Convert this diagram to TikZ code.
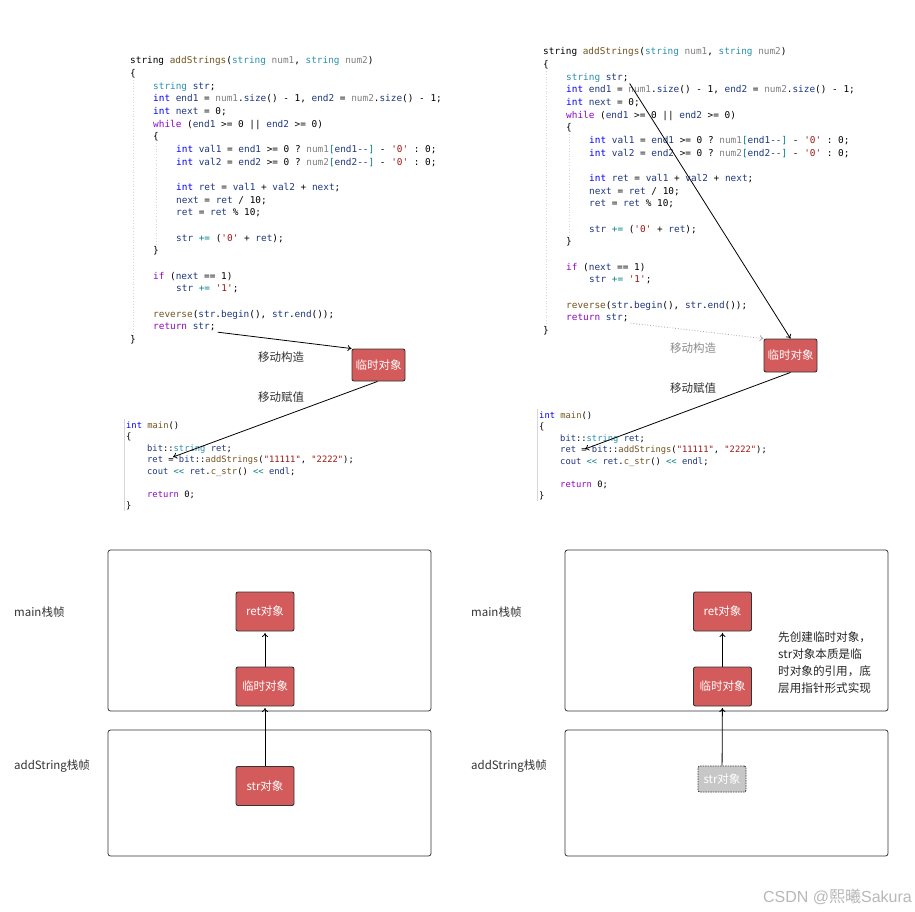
\documentclass[tikz,border=0pt]{standalone}
\usepackage{fontspec}
\setmonofont{DejaVu Sans Mono}
\newfontfamily\cjk{Noto Sans CJK SC}
\newfontfamily\wmfont{Liberation Sans}
\usetikzlibrary{arrows.meta}
\definecolor{cI}{HTML}{0000FF}
\definecolor{cS}{HTML}{2B91AF}
\definecolor{cC}{HTML}{8F08C4}
\definecolor{cV}{HTML}{1F377F}
\definecolor{cP}{HTML}{808080}
\definecolor{cL}{HTML}{A31515}
\definecolor{cO}{HTML}{008080}
\definecolor{cF}{HTML}{74531F}
\definecolor{objred}{HTML}{D45B5B}
\definecolor{lbl}{HTML}{333333}
\definecolor{guide}{HTML}{D6D6D6}
\newcommand\kI[1]{\textcolor{cI}{#1}}
\newcommand\kS[1]{\textcolor{cS}{#1}}
\newcommand\kC[1]{\textcolor{cC}{#1}}
\newcommand\kV[1]{\textcolor{cV}{#1}}
\newcommand\kP[1]{\textcolor{cP}{#1}}
\newcommand\kL[1]{\textcolor{cL}{#1}}
\newcommand\kO[1]{\textcolor{cO}{#1}}
\newcommand\kF[1]{\textcolor{cF}{#1}}
\newcommand\sq{\textquotesingle}
\newcommand\addstrcode[1]{%
 \draw[guide,dotted,line width=0.8pt] (3,16) -- (3,271);
 \draw[guide,dotted,line width=0.8pt] (26,79) -- (26,181);
 \node[codeln] (#1l1) at (0,0) {string \kF{addStrings}(\kS{string} \kP{num1}, \kS{string} \kP{num2})};
 \node[codeln] (#1l2) at (0,12.65) {\{};
 \node[codeln] (#1l3) at (23,25.3) {\kS{string} \kV{str};};
 \node[codeln] (#1l4) at (23,37.95) {\kI{int} \kV{end1} = \kP{num1}.\kV{size}() - 1, \kV{end2} = \kP{num2}.\kV{size}() - 1;};
 \node[codeln] (#1l5) at (23,50.6) {\kI{int} \kV{next} = 0;};
 \node[codeln] (#1l6) at (23,63.25) {\kC{while} (\kV{end1} >= 0 || \kV{end2} >= 0)};
 \node[codeln] (#1l7) at (23,75.9) {\{};
 \node[codeln] (#1l8) at (46,88.55) {\kI{int} \kV{val1} = \kV{end1} >= 0 ? \kP{num1}\kO{[}\kV{end1-{}-}\kO{]} - \kL{\sq0\sq} : 0;};
 \node[codeln] (#1l9) at (46,101.2) {\kI{int} \kV{val2} = \kV{end2} >= 0 ? \kP{num2}\kO{[}\kV{end2-{}-}\kO{]} - \kL{\sq0\sq} : 0;};
 \node[codeln] (#1l10) at (46,126.5) {\kI{int} \kV{ret} = \kV{val1} + \kV{val2} + \kV{next};};
 \node[codeln] (#1l11) at (46,139.15) {\kV{next} = \kV{ret} / 10;};
 \node[codeln] (#1l12) at (46,151.8) {\kV{ret} = \kV{ret} \% 10;};
 \node[codeln] (#1l13) at (46,177.1) {\kV{str} \kO{+=} (\kL{\sq0\sq} + \kV{ret});};
 \node[codeln] (#1l14) at (23,189.75) {\}};
 \node[codeln] (#1l15) at (23,215.05) {\kC{if} (\kV{next} == 1)};
 \node[codeln] (#1l16) at (46,227.7) {\kV{str} \kO{+=} \kL{\sq1\sq};};
 \node[codeln] (#1l17) at (23,253) {\kF{reverse}(\kV{str}.\kV{begin}(), \kV{str}.\kV{end}());};
 \node[codeln] (#1l18) at (23,265.65) {\kC{return} \kV{str};};
 \node[codeln] (#1l19) at (0,278.3) {\}};
}
\newcommand\maincode[1]{%
 \draw[guide,line width=0.8pt] (-2,-9) -- (-2,83);
 \node[mainln] (#1m1) at (0,0) {\kI{int} \kF{main}()};
 \node[mainln] (#1m2) at (0,11.5) {\{};
 \node[mainln] (#1m3) at (21,23) {\kV{bit}::\kS{string} \kV{ret};};
 \node[mainln] (#1m4) at (21,34.5) {\kV{ret} = \kV{bit}::\kF{addStrings}(\kL{"11111"}, \kL{"2222"});};
 \node[mainln] (#1m5) at (21,46) {\kV{cout} \kO{<{}<} \kV{ret}.\kF{c\_str}() \kO{<{}<} \kV{endl};};
 \node[mainln] (#1m6) at (21,69) {\kC{return} 0;};
 \node[mainln] (#1m7) at (0,80.5) {\}};
}
\begin{document}
\begin{tikzpicture}[x=1pt,y=-1pt,
  codeln/.style={anchor=base west,inner sep=0pt,font=\ttfamily\fontsize{9.4}{11}\selectfont,text=black},
  mainln/.style={anchor=base west,inner sep=0pt,font=\ttfamily\fontsize{8.8}{10}\selectfont,text=black},
  objbox/.style={draw=black!80,fill=objred,rounded corners=2pt,line width=0.9pt,text=white,inner sep=0pt,font=\cjk\fontsize{11.5}{13}\selectfont},
  ghostbox/.style={draw=black!75,fill=black!22,dash pattern=on 1.5pt off 1pt,rounded corners=2pt,line width=0.9pt,text=white,inner sep=0pt,font=\cjk\fontsize{11.5}{13}\selectfont},
  frame/.style={draw=black!80,rounded corners=2.5pt,line width=0.8pt,inner sep=0pt},
  lab/.style={text=lbl,inner sep=0pt,font=\cjk\fontsize{11.5}{13}\selectfont},
  conn/.style={draw=black,line width=0.8pt,-{To[length=4pt,width=6pt]}},
]
\useasboundingbox[fill=white] (0,0) rectangle (915,912);

% ---------- top left code ----------
\begin{scope}[shift={(130,64)}]
\addstrcode{L}
\end{scope}
\begin{scope}[shift={(126,428)}]
\maincode{L}
\end{scope}
\node[objbox,minimum width=53pt,minimum height=32pt] (tmpL) at (378.5,365) {临时对象};
\node[lab] (labL1) at (281,357) {移动构造};
\node[lab] (labL2) at (281,397) {移动赋值};
\coordinate (mL) at (173,457);
\draw[conn] ([xshift=2pt,yshift=-1pt]Ll18.south east) -- (tmpL.north west);
\draw[conn] ([xshift=-1pt]tmpL.south) -- (mL);

% ---------- top right code ----------
\begin{scope}[shift={(543,55)}]
\addstrcode{R}
\end{scope}
\begin{scope}[shift={(539,418)}]
\maincode{R}
\end{scope}
\node[objbox,minimum width=53pt,minimum height=33pt] (tmpR) at (790.5,355.5) {临时对象};
\node[lab,text=black!45] (labR1) at (693,348) {移动构造};
\node[lab] (labR2) at (693,388) {移动赋值};
\coordinate (mR) at (585,449);
\draw[conn] ([xshift=1pt,yshift=-1pt]Rl3.south east) -- (tmpR.north);
\draw[draw=black!35,line width=0.8pt,dotted,-{To[length=4pt,width=6pt]}] ([xshift=2pt,yshift=-1pt]Rl18.south east) -- (tmpR.north west);
\draw[conn] (tmpR.south) -- (mR);

% ---------- bottom left ----------
\node[frame,minimum width=323pt,minimum height=161pt] (fmainL) at (269.5,630.5) {};
\node[frame,minimum width=323pt,minimum height=126pt] (faddL) at (269.5,793) {};
\node[lab,anchor=west] (tmainL) at (14,612) {main栈帧};
\node[lab,anchor=west] (taddL) at (14,766) {addString栈帧};
\node[objbox,minimum width=58pt,minimum height=39pt] (retBL) at (265,611.5) {ret对象};
\node[objbox,minimum width=58pt,minimum height=39pt] (tmpBL) at (265,686.5) {临时对象};
\node[objbox,minimum width=58pt,minimum height=39pt] (strBL) at (265,786) {str对象};
\draw[conn,shorten >=1.5pt] (tmpBL) -- (retBL);
\draw[conn,shorten >=1.5pt] (strBL) -- (tmpBL);

% ---------- bottom right ----------
\node[frame,minimum width=323pt,minimum height=161pt] (fmainR) at (726.5,630.5) {};
\node[frame,minimum width=323pt,minimum height=126pt] (faddR) at (726.5,793) {};
\node[lab,anchor=west] (tmainR) at (471,612) {main栈帧};
\node[lab,anchor=west] (taddR) at (471,766) {addString栈帧};
\node[objbox,minimum width=58pt,minimum height=39pt] (retBR) at (722.5,611.5) {ret对象};
\node[objbox,minimum width=58pt,minimum height=39pt] (tmpBR) at (722.5,686.5) {临时对象};
\node[ghostbox,minimum width=48pt,minimum height=26pt] (strBR) at (722,779) {str对象};
\draw[conn,shorten >=1.5pt] (tmpBR) -- (retBR);
\draw[conn,shorten >=1.5pt] (strBR) -- (tmpBR);
\node[lab,anchor=north west,align=left,font=\cjk\fontsize{11.6}{17.3}\selectfont,text=black!85] (note) at (778,631) {先创建临时对象，\\str对象本质是临\\时对象的引用，底\\层用指针形式实现};

% watermark
\node[inner sep=0pt,anchor=east,text=black!28,font=\wmfont\fontsize{16}{18}\selectfont] (wm) at (912,897) {CSDN @{\cjk 熙曦}Sakura};
\end{tikzpicture}
\end{document}
